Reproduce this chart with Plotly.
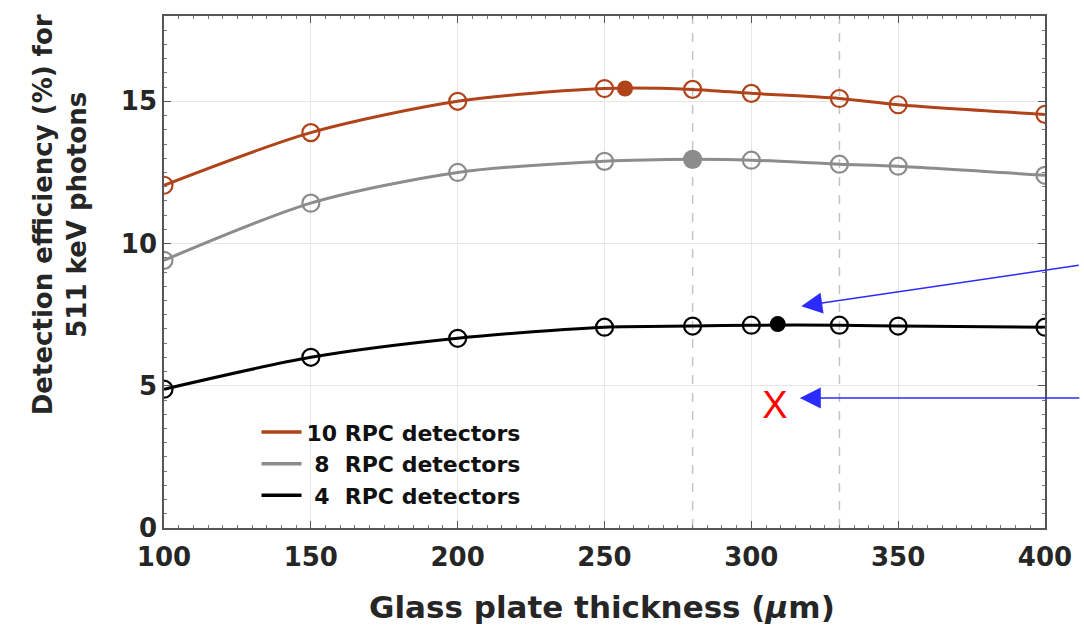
import plotly.graph_objects as go

thickness = [100, 150, 200, 250, 280, 300, 330, 350, 400]
eff_10 = [12.05, 13.9, 15.0, 15.45, 15.42, 15.28, 15.1, 14.88, 14.54]
eff_8 = [9.41, 11.42, 12.5, 12.89, 12.96, 12.93, 12.79, 12.72, 12.4]
eff_4 = [4.88, 6.0, 6.67, 7.06, 7.1, 7.13, 7.13, 7.1, 7.06]

opt_x = [257, 280, 309]
opt_y = [15.45, 12.96, 7.17]

names = ["10 RPC detectors", "\u00a08\u00a0\u00a0RPC detectors", "\u00a04\u00a0\u00a0RPC detectors"]
colors = ["#b0431a", "#8c8c8c", "#000000"]
series = [eff_10, eff_8, eff_4]

x_mark = [308]
y_mark = [4.2]

dashed_x = [280, 330]

fig = go.Figure()

for xv in dashed_x:
    fig.add_shape(type="line", x0=xv, x1=xv, y0=0, y1=18, xref="x", yref="y",
                  line=dict(color="#c4c4c4", width=1.5, dash="dash"), layer="below")

for name, col, ys in zip(names, colors, series):
    fig.add_trace(go.Scatter(
        x=thickness, y=ys, mode="lines+markers", name=name, showlegend=False,
        line=dict(color=col, width=3, shape="spline", smoothing=0.8),
        marker=dict(symbol="circle-open", size=17, color=col, line=dict(width=2.2, color=col)),
    ))

for i in range(3):
    fig.add_trace(go.Scatter(
        x=[opt_x[i]], y=[opt_y[i]], mode="markers", showlegend=False,
        marker=dict(symbol="circle", size=16, color=colors[i]),
    ))

# legend entries (lines only, as in the reference)
for name, col in zip(names, colors):
    fig.add_trace(go.Scatter(
        x=[None], y=[None], mode="lines", name=name, showlegend=True,
        line=dict(color=col, width=3.5),
    ))

fig.add_trace(go.Scatter(
    x=x_mark, y=y_mark, mode="text", text=["X"], showlegend=False,
    textfont=dict(family="Liberation Sans, Arial, sans-serif", size=38, color="#ff0000"),
))

font_main = "DejaVu Sans, sans-serif"
tick_col = "#262626"

fig.update_layout(
    width=1084, height=627,
    margin=dict(l=164, r=34, t=16, b=99),
    plot_bgcolor="white", paper_bgcolor="white",
    font=dict(family=font_main, color=tick_col),
    showlegend=True,
    legend=dict(x=0.105, y=0.228, xanchor="left", yanchor="top",
                bgcolor="rgba(255,255,255,0)", borderwidth=0,
                font=dict(family=font_main, size=22, color="#111111", weight="bold"),
                tracegroupgap=0, itemwidth=40),
    xaxis=dict(range=[100, 400], tickvals=[100, 150, 200, 250, 300, 350, 400],
               showgrid=True, gridcolor="#e6e6e6", gridwidth=1,
               showline=True, linecolor="#555555", linewidth=1.5, mirror="ticks",
               ticks="inside", ticklen=7, tickcolor="#555555",
               minor=dict(dtick=5, ticks="inside", ticklen=3, tickcolor="#777777", showgrid=False),
               tickfont=dict(family=font_main, size=26, color=tick_col, weight="bold"),
               ticklabelstandoff=5,
               zeroline=False),
    yaxis=dict(range=[0, 18], tickvals=[0, 5, 10, 15],
               showgrid=True, gridcolor="#e6e6e6", gridwidth=1,
               showline=True, linecolor="#555555", linewidth=1.5, mirror="ticks",
               ticks="inside", ticklen=7, tickcolor="#555555",
               minor=dict(dtick=0.5, ticks="inside", ticklen=3, tickcolor="#777777", showgrid=False),
               tickfont=dict(family=font_main, size=26, color=tick_col, weight="bold"),
               zeroline=False),
)

fig.add_annotation(text="Detection efficiency (%) for<br>511 keV photons",
                   xref="paper", yref="paper", x=-0.118, y=0.611, xanchor="center", yanchor="middle",
                   textangle=-90, showarrow=False,
                   font=dict(family=font_main, size=26, color=tick_col, weight="bold"))
fig.add_annotation(text="Glass plate thickness (<i>\u03bc</i>m)",
                   xref="paper", yref="paper", x=0.497, y=-0.155, xanchor="center", yanchor="middle",
                   showarrow=False,
                   font=dict(family=font_main, size=31, color=tick_col, weight="bold"))

arrow_col = "#2b2bff"
fig.add_annotation(x=317, y=7.8, xref="x", yref="y", text="", showarrow=True,
                   ax=279, ay=-41, arrowhead=2, arrowsize=2.8, arrowwidth=1.5, arrowcolor=arrow_col)
fig.add_annotation(x=316.5, y=4.57, xref="x", yref="y", text="", showarrow=True,
                   ax=281, ay=0, arrowhead=2, arrowsize=2.8, arrowwidth=1.5, arrowcolor=arrow_col)

fig.write_html("out.html")
